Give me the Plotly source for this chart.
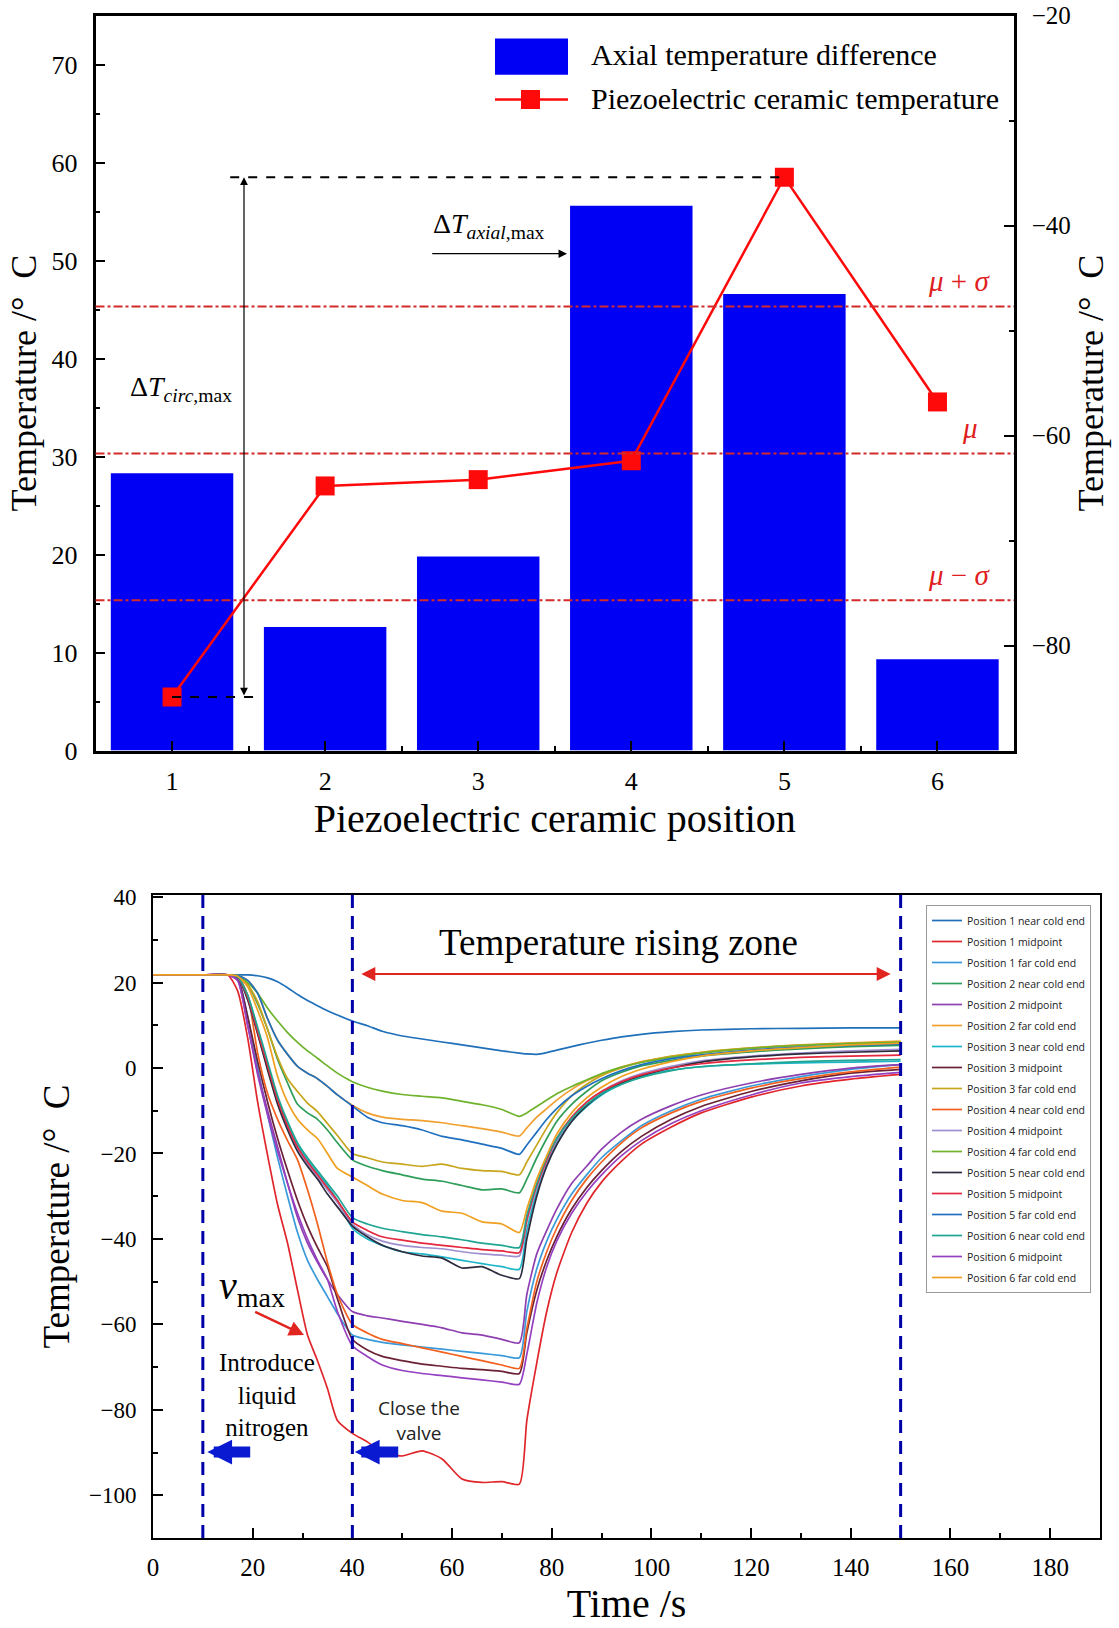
import plotly.graph_objects as go

W, H = 1119, 1628

# ---------------- Top chart data ----------------
positions = [1, 2, 3, 4, 5, 6]
axial_diff = [28.3, 12.6, 19.8, 55.6, 46.6, 9.3]
ceramic_temp = [-84.9, -64.8, -64.2, -62.4, -35.4, -56.8]
mu = -61.7
sigma = 14.0

# ---------------- Bottom chart data ----------------
time_s = [0, 10, 15, 17, 19, 21, 23, 25, 27, 29, 31, 33, 35, 37, 40, 43, 46, 50, 54, 58,
          62, 66, 70, 73.5, 75, 77, 79, 81, 84, 87, 90, 94, 98, 104, 110, 120, 130, 140, 150]

T_p1_near = [21.8, 21.8, 21.8, 21.8, 21.8, 21.6, 21.1, 20.2, 18.8, 17.2, 15.8, 14.6, 13.4, 12.4, 11.0, 9.9, 8.6, 7.5, 6.8, 6.1,
             5.4, 4.7, 4.0, 3.5, 3.3, 3.2, 3.6, 4.2, 5.0, 5.8, 6.5, 7.3, 7.9, 8.5, 8.9, 9.2, 9.3, 9.4, 9.4]
T_p1_mid = [21.8, 21.8, 21.8, 18.0, 7.0, -8.0, -20.5, -32.0, -41.0, -52.0, -62.5, -68.5, -75.0, -82.5, -85.5, -87.5, -90.0, -90.8, -89.6, -91.5,
            -96.2, -97.0, -96.8, -97.4, -82.5, -69.0, -57.0, -48.0, -38.5, -31.7, -26.7, -21.8, -17.8, -13.8, -10.5, -6.8, -4.2, -2.6, -1.5]
T_p1_far = [21.8, 21.8, 21.8, 21.0, 12.0, 0.0, -11.0, -21.0, -30.0, -38.5, -45.0, -49.5, -53.5, -57.5, -62.5, -63.5, -64.2, -64.8, -65.3, -65.8,
            -66.3, -66.8, -67.3, -67.8, -57.0, -47.0, -40.5, -35.5, -29.5, -25.0, -21.0, -17.0, -13.5, -10.0, -7.3, -4.2, -2.0, -0.3, 0.8]
T_p2_near = [21.8, 21.8, 21.8, 21.5, 19.5, 15.0, 9.0, 2.0, -3.5, -8.5, -10.5, -12.0, -14.5, -17.5, -21.5, -23.0, -24.0, -25.0, -26.0, -26.5,
             -27.5, -28.5, -28.3, -29.2, -26.0, -21.0, -16.5, -12.5, -8.5, -5.5, -3.0, -1.0, 0.5, 1.8, 2.8, 3.8, 4.5, 5.0, 5.3]
T_p2_mid = [21.8, 21.8, 21.8, 20.5, 10.0, -1.0, -10.0, -18.5, -27.0, -35.0, -41.0, -45.5, -49.5, -53.0, -57.0, -58.0, -58.5, -59.3, -60.0, -60.8,
            -62.0, -62.5, -63.5, -64.3, -53.0, -43.5, -38.0, -33.0, -27.0, -23.0, -19.0, -15.0, -12.0, -8.8, -6.3, -3.5, -1.5, 0.0, 0.8]
T_p2_far = [21.8, 21.8, 21.8, 21.7, 20.5, 17.5, 11.5, 6.5, 3.2, 0.4, -1.2, -2.5, -4.3, -6.3, -8.7, -10.5, -11.5, -12.0, -12.3, -12.8,
            -13.5, -14.2, -15.0, -15.9, -14.0, -11.5, -9.5, -7.5, -5.0, -3.0, -1.5, 0.2, 1.5, 2.7, 3.6, 4.7, 5.4, 5.9, 6.3]
T_p3_near = [21.8, 21.8, 21.8, 21.3, 17.0, 9.0, 1.0, -7.0, -13.0, -18.0, -21.5, -24.5, -27.5, -31.0, -37.5, -40.0, -41.5, -43.0, -43.5, -44.2,
             -45.0, -45.8, -46.5, -47.1, -38.0, -29.0, -22.5, -17.5, -12.5, -9.0, -6.3, -3.8, -2.0, -0.5, 0.3, 0.9, 1.2, 1.4, 1.6]
T_p3_mid = [21.8, 21.8, 21.8, 20.8, 12.0, 1.5, -8.0, -16.5, -24.0, -31.0, -37.0, -42.0, -46.5, -54.0, -63.5, -66.0, -67.5, -68.5, -69.3, -69.8,
            -70.3, -70.6, -71.0, -71.5, -62.0, -52.0, -45.0, -39.5, -33.0, -28.0, -24.0, -19.5, -16.0, -12.0, -9.0, -5.5, -3.0, -1.2, -0.3]
T_p3_far = [21.8, 21.8, 21.8, 21.6, 19.5, 15.5, 9.0, 2.5, -2.5, -5.5, -8.2, -10.2, -13.0, -15.8, -20.0, -21.0, -22.0, -22.5, -23.0, -22.5,
            -23.5, -24.0, -24.2, -25.0, -22.0, -18.0, -14.0, -10.5, -6.5, -3.8, -1.8, 0.0, 1.4, 2.8, 3.7, 4.7, 5.3, 5.8, 6.1]
T_p4_near = [21.8, 21.8, 21.8, 21.5, 17.0, 3.5, -6.0, -12.0, -17.0, -21.5, -28.5, -36.5, -45.5, -53.0, -60.0, -62.0, -63.5, -64.5, -65.5, -66.5,
             -67.5, -68.5, -69.5, -70.3, -61.0, -50.0, -43.0, -37.5, -31.0, -26.0, -22.0, -17.5, -14.0, -10.5, -7.8, -4.7, -2.5, -0.9, 0.2]
T_p4_mid = [21.8, 21.8, 21.8, 21.2, 16.0, 8.0, 0.0, -8.0, -14.0, -19.0, -22.5, -25.5, -28.5, -31.5, -36.5, -39.0, -40.5, -41.5, -42.0, -42.3,
            -43.0, -43.5, -43.8, -44.0, -36.0, -28.0, -22.0, -17.0, -11.8, -8.0, -5.5, -3.0, -1.3, 0.4, 1.7, 2.8, 3.5, 4.0, 4.4]
T_p4_far = [21.8, 21.8, 21.8, 21.7, 20.0, 17.5, 14.0, 11.0, 8.3, 6.0, 4.0, 2.3, 0.5, -1.2, -3.2, -4.5, -5.4, -6.2, -6.6, -7.0,
            -7.8, -8.6, -9.7, -11.3, -10.5, -9.0, -7.5, -6.0, -4.3, -2.8, -1.3, 0.2, 1.3, 2.5, 3.5, 4.6, 5.3, 5.7, 6.0]
T_p5_near = [21.8, 21.8, 21.8, 21.2, 16.0, 8.0, -0.5, -8.5, -14.5, -19.5, -23.0, -26.0, -29.5, -32.5, -37.0, -39.5, -41.5, -43.0, -44.0, -44.5,
             -46.8, -46.5, -48.5, -49.3, -40.0, -30.0, -23.0, -18.0, -12.5, -8.8, -6.0, -3.5, -1.8, 0.0, 1.4, 2.6, 3.3, 3.7, 4.0]
T_p5_mid = [21.8, 21.8, 21.8, 21.2, 16.5, 8.5, 0.5, -7.5, -13.5, -18.5, -22.0, -25.0, -28.0, -31.0, -36.0, -38.0, -39.5, -40.3, -41.0, -41.5,
            -42.0, -42.5, -42.8, -43.2, -35.5, -27.5, -21.5, -16.5, -11.5, -8.0, -5.5, -3.2, -1.6, 0.0, 1.0, 1.9, 2.5, 2.8, 3.0]
T_p5_far = [21.8, 21.8, 21.8, 21.7, 20.5, 17.5, 11.5, 6.5, 3.2, 0.4, -1.2, -2.5, -4.3, -6.3, -8.9, -11.5, -12.8, -13.5, -14.5, -16.0,
            -16.8, -17.8, -18.8, -20.2, -18.0, -15.0, -12.0, -9.5, -6.5, -4.3, -2.5, -0.6, 0.8, 2.2, 3.1, 4.2, 4.9, 5.3, 5.6]
T_p6_near = [21.8, 21.8, 21.8, 21.3, 17.0, 9.5, 1.5, -6.5, -12.5, -17.5, -21.0, -24.0, -27.0, -30.0, -35.0, -36.5, -37.5, -38.3, -39.0, -39.5,
             -40.2, -41.0, -41.5, -42.0, -34.5, -27.0, -21.0, -16.5, -11.8, -8.5, -6.0, -3.8, -2.2, -0.6, 0.3, 1.0, 1.5, 1.8, 2.0]
T_p6_mid = [21.8, 21.8, 21.8, 20.5, 10.0, -1.5, -11.0, -19.5, -27.0, -34.0, -40.0, -45.0, -49.5, -57.0, -65.0, -67.5, -69.5, -70.8, -71.5, -72.0,
            -72.5, -73.0, -73.5, -74.0, -67.0, -55.0, -46.5, -40.5, -34.0, -29.0, -25.0, -20.5, -17.0, -13.0, -10.0, -6.3, -3.5, -2.0, -1.0]
T_p6_far = [21.8, 21.8, 21.8, 21.5, 19.0, 13.5, 7.0, -2.0, -8.0, -12.0, -14.5, -16.5, -20.0, -23.5, -25.5, -27.5, -29.5, -31.0, -31.5, -33.5,
            -34.0, -36.0, -36.5, -38.5, -33.0, -26.0, -20.5, -15.5, -10.5, -7.0, -4.5, -2.0, -0.3, 1.5, 2.8, 4.0, 4.8, 5.4, 5.8]

series_names = [
    "Position 1 near cold end", "Position 1 midpoint", "Position 1 far cold end",
    "Position 2 near cold end", "Position 2 midpoint", "Position 2 far cold end",
    "Position 3 near cold end", "Position 3 midpoint", "Position 3 far cold end",
    "Position 4 near cold end", "Position 4 midpoint", "Position 4 far cold end",
    "Position 5 near cold end", "Position 5 midpoint", "Position 5 far cold end",
    "Position 6 near cold end", "Position 6 midpoint", "Position 6 far cold end",
]
series_values = [T_p1_near, T_p1_mid, T_p1_far, T_p2_near, T_p2_mid, T_p2_far,
                 T_p3_near, T_p3_mid, T_p3_far, T_p4_near, T_p4_mid, T_p4_far,
                 T_p5_near, T_p5_mid, T_p5_far, T_p6_near, T_p6_mid, T_p6_far]
series_colors = ["#1f6fb9", "#e0262a", "#3a9ad9", "#2f9e5a", "#8e3fb0", "#f0a030",
                 "#1cb6c8", "#6b2135", "#c7a51c", "#f2601e", "#9f8fd0", "#6fb22c",
                 "#2d2b3d", "#e3283f", "#2070c0", "#1fa592", "#9540c0", "#f0a020"]
event_times = [10, 40, 150]

SERIF = "Liberation Serif"
SANS = "Open Sans"


def px(x):
    return x / W


def py(y):
    return 1 - y / H


fig = go.Figure()

# ---------- top chart traces ----------
fig.add_trace(go.Bar(
    x=positions, y=axial_diff, width=0.8, name="Axial temperature difference",
    marker=dict(color="#0000f5", line=dict(width=0)),
    xaxis="x", yaxis="y", showlegend=False))
fig.add_trace(go.Scatter(
    x=positions, y=ceramic_temp, mode="lines+markers", name="Piezoelectric ceramic temperature",
    line=dict(color="#ff0a0a", width=2.5),
    marker=dict(symbol="square", size=19, color="#ff0a0a"),
    xaxis="x", yaxis="y2", showlegend=False))

# ---------- bottom chart traces ----------
for name, vals, col in zip(series_names, series_values, series_colors):
    fig.add_trace(go.Scatter(
        x=time_s, y=vals, mode="lines", name=name, legendgroup=name,
        line=dict(color=col, width=1.7, shape="spline", smoothing=0.6),
        xaxis="x2", yaxis="y3"))

shapes = []
annotations = []

# statistical lines (top)
for v in [mu + sigma, mu, mu - sigma]:
    shapes.append(dict(type="line", xref="x domain", x0=0, x1=1, yref="y2", y0=v, y1=v,
                       line=dict(color="#d42a2a", width=2, dash="dashdot"), layer="above"))
stat_labels = [(mu + sigma, "<i>μ</i> + <i>σ</i>", 6.14), (mu, "<i>μ</i>", 6.21),
               (mu - sigma, "<i>μ</i> − <i>σ</i>", 6.14)]
for v, txt, xx in stat_labels:
    annotations.append(dict(x=xx, y=v, xref="x", yref="y2", text=txt, showarrow=False,
                            yshift=25, font=dict(family=SERIF, size=29, color="#e02020")))

# dashed reference lines at max/min ceramic temperature
shapes.append(dict(type="line", xref="x", yref="y2", x0=1.38, x1=positions[4],
                   y0=ceramic_temp[4], y1=ceramic_temp[4],
                   line=dict(color="black", width=2, dash="dash"), layer="above"))
shapes.append(dict(type="line", xref="x", yref="y2", x0=positions[0], x1=1.57,
                   y0=ceramic_temp[0], y1=ceramic_temp[0],
                   line=dict(color="black", width=2, dash="dash"), layer="above"))
# vertical double arrow
annotations.append(dict(x=1.47, y=ceramic_temp[4], ax=1.47, ay=ceramic_temp[0],
                        xref="x", yref="y2", axref="x", ayref="y2", text="", showarrow=True,
                        arrowside="end+start", arrowhead=2, startarrowhead=2,
                        arrowsize=1.3, startarrowsize=1.3, arrowwidth=1.2, arrowcolor="black"))
annotations.append(dict(x=1.06, y=36.9, xref="x", yref="y", showarrow=False,
                        text="Δ<i>T</i><sub><i>circ</i>,max</sub>",
                        font=dict(family=SERIF, size=28, color="black")))
# axial arrow
annotations.append(dict(x=3.58, y=50.7, ax=2.69, ay=50.7, xref="x", yref="y", axref="x", ayref="y",
                        text="", showarrow=True, arrowhead=2, arrowsize=1.3, arrowwidth=1.3,
                        arrowcolor="black"))
annotations.append(dict(x=3.07, y=53.6, xref="x", yref="y", showarrow=False,
                        text="Δ<i>T</i><sub><i>axial</i>,max</sub>",
                        font=dict(family=SERIF, size=28, color="black")))

# manual top legend
shapes.append(dict(type="rect", xref="paper", yref="paper", x0=px(495), x1=px(568),
                   y0=py(74.7), y1=py(38.4), fillcolor="#0000f5", line=dict(width=0)))
shapes.append(dict(type="line", xref="paper", yref="paper", x0=px(495), x1=px(568),
                   y0=py(99.6), y1=py(99.6), line=dict(color="#ff0a0a", width=2.5)))
shapes.append(dict(type="rect", xref="paper", yref="paper", x0=px(521), x1=px(540),
                   y0=py(109), y1=py(90), fillcolor="#ff0a0a", line=dict(width=0)))
annotations.append(dict(x=px(589), y=py(55), xref="paper", yref="paper", xanchor="left",
                        yanchor="middle", text="Axial temperature difference", showarrow=False,
                        font=dict(family=SERIF, size=30, color="black")))
annotations.append(dict(x=px(589), y=py(98.6), xref="paper", yref="paper", xanchor="left",
                        yanchor="middle", text="Piezoelectric ceramic temperature", showarrow=False,
                        font=dict(family=SERIF, size=30, color="black")))

# ---------- bottom annotations ----------
for t in event_times:
    shapes.append(dict(type="line", xref="x2", yref="y3 domain", x0=t, x1=t, y0=0, y1=1,
                       line=dict(color="#0000a8", width=3, dash="13px,8px"), layer="above"))
annotations.append(dict(x=148, y=22, ax=41.5, ay=22, xref="x2", yref="y3", axref="x2", ayref="y3",
                        text="", showarrow=True, arrowside="end+start", arrowhead=2, startarrowhead=2,
                        arrowsize=1.4, startarrowsize=1.4, arrowwidth=2, arrowcolor="#e0241f"))
annotations.append(dict(x=93.4, y=29.3, xref="x2", yref="y3", showarrow=False,
                        text="Temperature rising zone", font=dict(family=SERIF, size=37, color="black")))
annotations.append(dict(x=19.8, y=-51.5, xref="x2", yref="y3", showarrow=False,
                        text="<i>v</i><sub>max</sub>", font=dict(family=SERIF, size=40, color="black")))
annotations.append(dict(x=30.3, y=-62.5, ax=20.2, ay=-56.9, xref="x2", yref="y3", axref="x2", ayref="y3",
                        text="", showarrow=True, arrowhead=2, arrowsize=1.2, arrowwidth=2.5,
                        arrowcolor="#e0241f"))
annotations.append(dict(x=22.8, y=-76.6, xref="x2", yref="y3", showarrow=False,
                        text="Introduce<br>liquid<br>nitrogen",
                        font=dict(family=SERIF, size=25, color="black")))
annotations.append(dict(x=53.3, y=-82.6, xref="x2", yref="y3", showarrow=False,
                        text="Close the<br>valve",
                        font=dict(family=SANS, size=19, color="#222")))
for head, tail in [(10.9, 19.8), (40.5, 49.5)]:
    annotations.append(dict(x=head, y=-89.9, ax=tail, ay=-89.9, xref="x2", yref="y3",
                            axref="x2", ayref="y3", text="", showarrow=True, arrowhead=2,
                            arrowsize=0.45, arrowwidth=11, arrowcolor="#0a1ad0"))

axis_common = dict(showgrid=False, zeroline=False, showline=True, linecolor="black",
                   ticks="inside", tickcolor="black", tickwidth=2, ticklen=10, automargin=False)

fig.update_layout(
    width=W, height=H, margin=dict(l=0, r=0, t=0, b=0, autoexpand=False),
    paper_bgcolor="white", plot_bgcolor="white",
    font=dict(family=SERIF, color="black"),
    bargap=0.2,
    xaxis=dict(**axis_common, domain=[px(95.5), px(1014)], anchor="y", range=[0.5, 6.5],
               tickmode="array", tickvals=positions, linewidth=2.5, mirror=True,
               minor=dict(tickvals=[1.5, 2.5, 3.5, 4.5, 5.5], ticks="inside", ticklen=5, tickwidth=2,
                          tickcolor="black"),
               tickfont=dict(family=SERIF, size=26), ticklabelstandoff=6,
               title=dict(text="Piezoelectric ceramic position", font=dict(family=SERIF, size=40), standoff=6)),
    yaxis=dict(**axis_common, domain=[py(750.5), py(15.6)], anchor="x", range=[0, 75], dtick=10,
               linewidth=2.5, minor=dict(dtick=5, ticks="inside", ticklen=5, tickwidth=2, tickcolor="black"),
               tickfont=dict(family=SERIF, size=26), ticklabelstandoff=10,
               title=dict(text="Temperature /°\u00a0 C", font=dict(family=SERIF, size=36), standoff=4)),
    yaxis2=dict(**axis_common, overlaying="y", side="right", anchor="x", range=[-90, -20], dtick=20,
                tick0=-20, linewidth=2.5,
                minor=dict(dtick=10, ticks="inside", ticklen=5, tickwidth=2, tickcolor="black"),
                tickfont=dict(family=SERIF, size=25), ticklabelstandoff=10,
                title=dict(text="Temperature /°\u00a0 C", font=dict(family=SERIF, size=36), standoff=7)),
    xaxis2=dict(**axis_common, domain=[px(153), px(1100)], anchor="y3", range=[0, 190], dtick=20,
                linewidth=2, mirror=True,
                minor=dict(dtick=10, ticks="inside", ticklen=5, tickwidth=2, tickcolor="black"),
                tickfont=dict(family=SERIF, size=25), ticklabelstandoff=6,
                title=dict(text="Time /s", font=dict(family=SERIF, size=40), standoff=6)),
    yaxis3=dict(**axis_common, domain=[py(1538), py(895)], anchor="x2", range=[-110, 40.5], dtick=20,
                linewidth=2, mirror=True,
                minor=dict(dtick=10, ticks="inside", ticklen=5, tickwidth=2, tickcolor="black"),
                tickfont=dict(family=SERIF, size=23), ticklabelstandoff=10,
                title=dict(text="Temperature /°\u00a0 C", font=dict(family=SERIF, size=37), standoff=8)),
    legend=dict(x=px(926), y=py(905), xanchor="left", yanchor="top", bgcolor="white",
                bordercolor="#999999", borderwidth=1, font=dict(family=SANS, size=10.5, color="#222"),
                tracegroupgap=2, itemwidth=30),
    shapes=shapes, annotations=annotations,
)

fig.write_html("out.html", config={"displayModeBar": False},
               post_script="document.body.style.margin='0';document.body.style.overflow='hidden';")
